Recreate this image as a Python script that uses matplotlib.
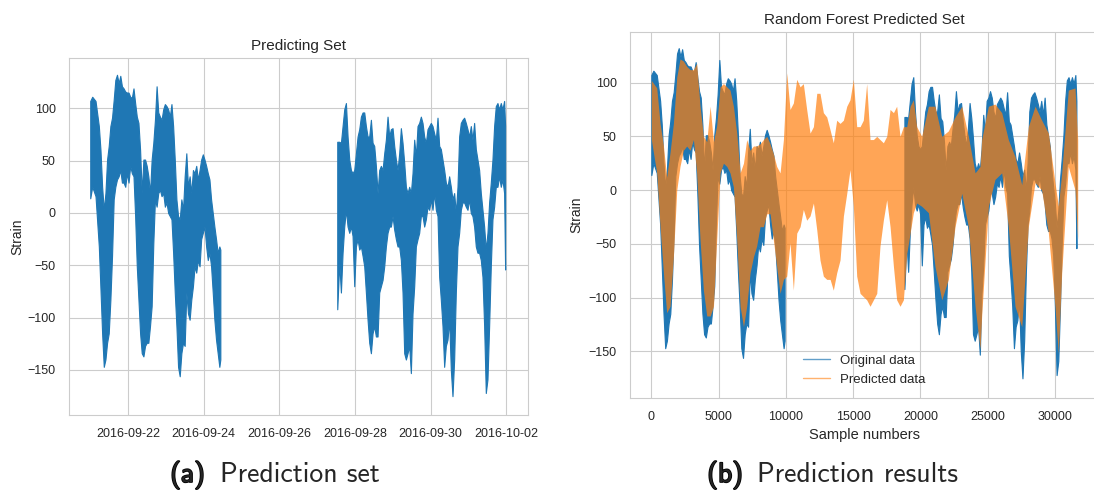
import numpy as np
import matplotlib
matplotlib.use("Agg")
import matplotlib.pyplot as plt
import matplotlib.dates as mdates
import matplotlib.patheffects as pe
from matplotlib.lines import Line2D
import seaborn as sns
from datetime import datetime

# strain envelope (upper / lower), one sample every 30 s
seg1_samples = [0, 151, 402, 654, 780, 905, 1031, 1157, 1283, 1408, 1534, 1660, 1786, 1911, 2037,
                2163, 2289, 2414, 2540, 2666, 2792, 2917, 3043, 3169, 3295, 3420, 3546, 3672, 3798,
                3923, 4049, 4175, 4301, 4426, 4552, 4678, 4804, 4929, 5055, 5181, 5307, 5432, 5558,
                5684, 5810, 5935, 6061, 6187, 6313, 6438, 6564, 6690, 6816, 6941, 7067, 7193, 7319,
                7444, 7570, 7696, 7822, 7947, 8073, 8199, 8325, 8450, 8576, 8702, 8828, 8953, 9079,
                9205, 9331, 9456, 9582, 9708, 9834, 9909]
seg1_hi = [107, 111, 107, 83, 60, 25, 3, 19, 51, 64, 83, 91, 108, 127, 132, 124, 131, 121, 119, 116,
           115, 115, 111, 110, 119, 105, 92, 86, 60, 19, 51, 51, 45, 35, 19, 51, 67, 89, 121, 96, 92,
           89, 99, 104, 102, 99, 92, 104, 83, 51, 13, -3, -6, 13, 3, 35, 57, 25, 35, 19, 41, 38, 45,
           32, 41, 51, 56, 51, 45, 38, 32, 13, 0, -13, -25, -38, -32, -35]
seg1_lo = [14, 25, 16, -32, -73, -115, -147, -140, -124, -115, -83, -41, 13, 25, 32, 35, 41, 29, 29,
           25, 38, 29, 45, 38, 35, -3, -51, -83, -115, -134, -137, -127, -124, -124, -108, -89, -29,
           13, 6, 19, 22, 16, 19, 6, 10, 0, -3, -6, -38, -76, -108, -147, -156, -134, -124, -127, -76,
           -96, -102, -83, -70, -51, -57, -45, -51, -25, -19, -13, -32, -45, -38, -51, -76, -102, -121,
           -134, -147, -140]

seg2_samples = [18815, 18968, 19094, 19221, 19348, 19475, 19602, 19729, 19856, 19982, 20109, 20236,
                20363, 20490, 20617, 20744, 20870, 20997, 21124, 21251, 21378, 21505, 21631, 21758,
                21885, 22012, 22139, 22266, 22393, 22519, 22646, 22773, 22900, 23027, 23154, 23281,
                23407, 23534, 23661, 23788, 23915, 24042, 24168, 24295, 24422, 24549, 24676, 24803,
                24930, 25056, 25183, 25310, 25437, 25564, 25691, 25818, 25944, 26071, 26198, 26325,
                26452, 26579, 26705, 26832, 26959, 27086, 27213, 27340, 27467, 27593, 27720, 27847,
                27974, 28101, 28228, 28354, 28481, 28608, 28735, 28862, 28989, 29115, 29242, 29369,
                29496, 29623, 29750, 29877, 30004, 30130, 30257, 30384, 30511, 30638, 30765, 30891,
                31018, 31145, 31272, 31399, 31526, 31602]
seg2_hi = [68, 68, 67, 83, 99, 105, 73, 51, 41, 38, 41, 57, 73, 80, 92, 96, 96, 83, 73, 73, 89, 67,
           64, 45, 19, 41, 45, 41, 57, 70, 92, 73, 80, 81, 64, 51, 41, 57, 81, 67, 48, 25, 19, 25, 19,
           38, 70, 54, 83, 86, 92, 86, 73, 67, 80, 83, 86, 83, 76, 70, 91, 64, 61, 51, 41, 29, 25, 35,
           25, 13, 19, 0, 25, 73, 86, 89, 91, 86, 80, 73, 83, 70, 86, 61, 51, 41, 19, 3, -13, -35, -19,
           10, 29, 51, 83, 102, 105, 99, 105, 99, 107, 83]
seg2_lo = [-92, -48, -76, -38, -13, 3, -13, -19, -13, -22, -70, -32, -25, -35, -32, -41, -51, -76,
           -102, -124, -134, -115, -108, -118, -118, -76, -70, -64, -51, -32, -19, -13, -13, -3, -16,
           -25, -32, -32, -45, -76, -134, -140, -134, -127, -153, -96, -70, -32, -25, -19, -3, -3, -13,
           -6, 6, 3, 13, 3, 19, 3, -3, -61, -83, -108, -147, -127, -121, -102, -150, -175, -140, -76,
           -32, -19, 3, 10, 10, 6, 3, 13, 0, -3, -13, -32, -38, -38, -45, -61, -108, -172, -159, -108,
           -51, -6, 6, 25, 25, 35, 25, 32, 19, -54]

# random forest prediction envelope
pred_samples = [0, 400, 650, 900, 1140, 1390, 1640, 1890, 2130, 2380, 2630, 2880, 3130, 3370, 3620,
                3870, 4120, 4370, 4620, 4860, 5110, 5360, 5610, 5850, 6100, 6350, 6600, 6850, 7090,
                7340, 7590, 7830, 8080, 8330, 8580, 8830, 9070, 9320, 9570, 9820, 10065, 10310, 10560,
                10810, 11060, 11300, 11550, 11800, 12050, 12300, 12540, 12790, 13040, 13290, 13530,
                13780, 14030, 14280, 14530, 14770, 15020, 15270, 15520, 15760, 16010, 16260, 16510,
                16760, 17000, 17250, 17500, 17750, 18000, 18240, 18490, 18740, 18990, 19240, 19480,
                19730, 20100, 20600, 21090, 21590, 22080, 22580, 23080, 23570, 24070, 24440, 24560,
                25060, 25550, 26050, 26540, 27040, 27540, 28030, 28530, 29020, 29520, 30010, 30260,
                30510, 31000, 31500, 31700]
pred_hi = [102, 95, 62, 41, 12, 35, 62, 105, 122, 120, 115, 112, 112, 118, 78, 50, 45, 78, 45, 60, 96,
           99, 96, 93, 78, 53, 16, 25, 47, 37, 41, 41, 43, 47, 50, 43, 34, 22, 16, 47, 109, 75, 81,
           103, 96, 99, 75, 53, 59, 90, 90, 72, 68, 56, 44, 65, 62, 65, 78, 84, 103, 59, 59, 65, 99,
           47, 47, 50, 47, 44, 50, 75, 72, 78, 50, 59, 59, 78, 84, 59, 50, 78, 78, 50, 55, 68, 78, 50,
           16, 22, 47, 78, 80, 72, 47, 31, 5, 59, 78, 65, 53, 7, -15, 16, 93, 95, 47]
pred_lo = [47, 16, -34, -77, -114, -108, -62, 0, 22, 37, 41, 37, 47, 16, -46, -93, -117, -117, -108,
           -46, 16, 25, 22, 16, 3, -46, -108, -127, -108, -77, -62, -52, -34, -34, -22, -22, -46, -71,
           -96, -83, -80, -49, -93, -40, -34, -18, -28, -24, -12, -37, -65, -80, -83, -83, -93, -77,
           -65, -24, -3, 19, -15, -80, -96, -99, -102, -108, -102, -96, -52, -28, -9, -34, -71, -102,
           -108, -102, -59, -40, -21, -12, -15, -21, -71, -102, -83, -34, -3, -34, -108, -148, -117,
           -15, 10, 16, -34, -108, -127, -34, 7, 0, -40, -108, -152, -77, 22, 0, -46]

tick_dates = ["2016-09-22", "2016-09-24", "2016-09-26", "2016-09-28", "2016-09-30", "2016-10-02"]

blue = "#1f77b4"
orange = "#ff7f0e"

sns.set_style("whitegrid")
plt.rcParams["font.family"] = ["Liberation Sans", "DejaVu Sans"]
plt.rcParams["xtick.major.pad"] = 6
plt.rcParams["ytick.major.pad"] = 6

fig = plt.figure(figsize=(10.94, 4.93), dpi=100)
ax1 = fig.add_axes([0.0631, 0.1582, 0.4196, 0.7241])
ax2 = fig.add_axes([0.5759, 0.1933, 0.4287, 0.7418])

# LEFT: measured set against time
start = mdates.date2num(datetime(2016, 9, 21))
segments = [(seg1_samples, seg1_hi, seg1_lo), (seg2_samples, seg2_hi, seg2_lo)]
for samples, hi, lo in segments:
    t = start + np.array(samples) * 30 / 86400
    ax1.fill_between(t, lo, hi, color=blue, edgecolor=blue, lw=0.8)
ax1.set_xlim(start - 0.561, start + 11.58)
ax1.set_ylim(-193, 148)
ax1.set_xticks([mdates.date2num(datetime.strptime(d, "%Y-%m-%d")) for d in tick_dates])
ax1.set_xticklabels(tick_dates)
ax1.set_yticks([-150, -100, -50, 0, 50, 100])
ax1.tick_params(labelsize=9)
ax1.set_title("Predicting Set", fontsize=11)
ax1.set_ylabel("Strain", fontsize=10, labelpad=2)

# RIGHT: original vs predicted against sample number
for samples, hi, lo in segments:
    ax2.fill_between(samples, lo, hi, color=blue, edgecolor=blue, lw=0.8)
ax2.fill_between(pred_samples, pred_lo, pred_hi, color=orange, alpha=0.7, lw=0)
ax2.set_xlim(-1584, 33286)
ax2.set_ylim(-193, 147)
ax2.set_xticks(np.arange(0, 30001, 5000))
ax2.set_yticks([-150, -100, -50, 0, 50, 100])
ax2.tick_params(labelsize=9)
ax2.set_title("Random Forest Predicted Set", fontsize=11)
ax2.set_xlabel("Sample numbers", fontsize=10.5)
ax2.set_ylabel("Strain", fontsize=10)
legend_elements = [Line2D([0], [0], color=blue, lw=1, alpha=0.7, label="Original data"),
                   Line2D([0], [0], color=orange, lw=1, alpha=0.6, label="Predicted data")]
ax2.legend(handles=legend_elements, loc="lower center", frameon=False, fontsize=9.5)

# sub-captions
bold = [pe.withStroke(linewidth=1.2, foreground="black")]
cap_y = 1 - 482 / 493
fig.text(205 / 1094, cap_y, "(a)", family="cmss10", fontsize=20, ha="right", va="baseline",
         path_effects=bold)
fig.text(220 / 1094, cap_y, "Prediction set", family="cmss10", fontsize=20, ha="left", va="baseline")
fig.text(743 / 1094, cap_y, "(b)", family="cmss10", fontsize=20, ha="right", va="baseline",
         path_effects=bold)
fig.text(757 / 1094, cap_y, "Prediction results", family="cmss10", fontsize=20, ha="left",
         va="baseline")

fig.savefig("out.png", dpi=100)
